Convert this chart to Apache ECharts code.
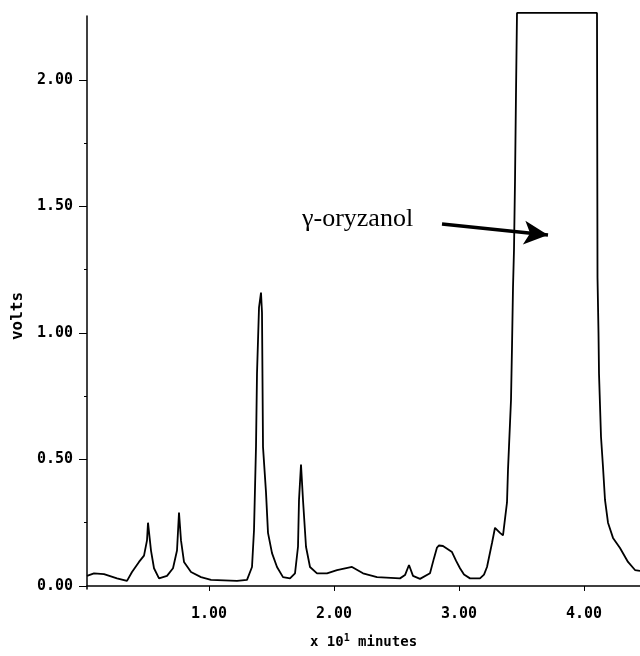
<!DOCTYPE html>
<html>
<head>
<meta charset="utf-8">
<script src="https://cdn.jsdelivr.net/npm/echarts@6/dist/echarts.min.js"></script>
<style>
  html, body { margin: 0; padding: 0; background: #fff; }
  #chart { width: 640px; height: 656px; }
</style>
</head>
<body>
<div id="chart"></div>
<script>
// retention time (x 10 minutes) and detector response (volts)
const times = [
  0.024, 0.08, 0.16, 0.264, 0.344, 0.384, 0.44, 0.48, 0.504, 0.512, 0.536, 0.56, 0.6,
  0.664, 0.712, 0.744, 0.76, 0.776, 0.8, 0.856, 0.936, 1.016, 1.224, 1.304, 1.344,
  1.36, 1.376, 1.384, 1.4, 1.416, 1.424, 1.432, 1.456, 1.472, 1.504, 1.544, 1.592,
  1.648, 1.688, 1.712, 1.72, 1.736, 1.752, 1.776, 1.808, 1.864, 1.944, 2.024, 2.144,
  2.232, 2.344, 2.528, 2.568, 2.6, 2.632, 2.688, 2.768, 2.8, 2.824, 2.84, 2.872,
  2.944, 2.976, 3.008, 3.04, 3.088, 3.168, 3.2, 3.224, 3.264, 3.288, 3.328, 3.352,
  3.384, 3.392, 3.416, 3.424, 3.432, 3.44, 3.448, 3.456, 3.464, 4.104, 4.108, 4.116,
  4.12, 4.136, 4.152, 4.168, 4.192, 4.232, 4.288, 4.352, 4.408, 4.448
]
const volts = [
  0.04, 0.05, 0.047, 0.03, 0.02, 0.055, 0.095, 0.12, 0.18, 0.25, 0.14, 0.07, 0.03,
  0.04, 0.07, 0.14, 0.29, 0.18, 0.095, 0.055, 0.035, 0.024, 0.02, 0.024, 0.075,
  0.22, 0.55, 0.84, 1.10, 1.16, 1.08, 0.55, 0.37, 0.21, 0.13, 0.075, 0.035,
  0.03, 0.05, 0.155, 0.34, 0.48, 0.34, 0.155, 0.075, 0.05, 0.05, 0.063, 0.075,
  0.05, 0.035, 0.03, 0.043, 0.083, 0.04, 0.028, 0.05, 0.11, 0.152, 0.16, 0.158,
  0.134, 0.1, 0.07, 0.045, 0.03, 0.03, 0.045, 0.075, 0.17, 0.23, 0.21, 0.20,
  0.33, 0.46, 0.735, 0.945, 1.18, 1.33, 1.6, 1.95, 2.265, 2.265, 1.22, 1.0,
  0.84, 0.59, 0.47, 0.34, 0.25, 0.19, 0.15, 0.095, 0.063, 0.06
]

const xTicks = [1, 2, 3, 4]
const yTicks = [0, 0.5, 1, 1.5, 2]
const yMinorTicks = [0.25, 0.75, 1.25, 1.75]

// arrow pointing at the big peak (data coords)
const arrowFrom = [2.864, 1.431]
const arrowTo = [3.712, 1.387]

const chart = echarts.init(document.getElementById('chart'))

const monoFont = 'DejaVu Sans Mono'

const option = {
  animation: false,
  backgroundColor: '#fff',
  grid: {
    left: 87,
    right: 0,
    top: 16,
    bottom: 67,
    containLabel: false,
    outerBoundsMode: 'none'
  },
  xAxis: {
    type: 'value',
    min: 0.024,
    max: 4.448,
    name: 'x 10{s|1} minutes',
    nameLocation: 'middle',
    nameGap: 44,
    nameTextStyle: {
      color: '#000',
      fontFamily: monoFont,
      fontWeight: 'bold',
      fontSize: 14,
      rich: {
        s: { fontFamily: monoFont, fontWeight: 'bold', fontSize: 10, color: '#000', padding: [0, 0, 8, 0] }
      }
    },
    axisLine: { show: true, lineStyle: { color: '#000', width: 1.5 } },
    axisTick: { show: true, length: 5, customValues: xTicks, lineStyle: { color: '#000', width: 1 } },
    axisLabel: {
      customValues: xTicks,
      margin: 18,
      color: '#000',
      fontFamily: monoFont,
      fontWeight: 'bold',
      fontSize: 15,
      formatter: v => v.toFixed(2)
    },
    splitLine: { show: false }
  },
  yAxis: [
    {
      type: 'value',
      min: -0.012,
      max: 2.253,
      axisLine: { show: true, lineStyle: { color: '#000', width: 1.5 } },
      axisTick: { show: true, length: 8, customValues: yTicks, lineStyle: { color: '#000', width: 1 } },
      axisLabel: {
        customValues: yTicks,
        margin: 14,
        color: '#000',
        fontFamily: monoFont,
        fontWeight: 'bold',
        fontSize: 15,
        formatter: v => v.toFixed(2)
      },
      splitLine: { show: false }
    },
    {
      // minor ticks only
      type: 'value',
      position: 'left',
      min: -0.012,
      max: 2.253,
      axisLine: { show: false },
      axisTick: { show: true, length: 3, customValues: yMinorTicks, lineStyle: { color: '#000', width: 1 } },
      axisLabel: { show: false, customValues: yMinorTicks },
      splitLine: { show: false }
    }
  ],
  graphic: [
    {
      type: 'text',
      x: 18,
      y: 316,
      rotation: Math.PI / 2,
      style: {
        text: 'volts',
        fill: '#000',
        font: 'bold 16px "DejaVu Sans Mono"',
        align: 'center',
        verticalAlign: 'middle'
      }
    },
    {
      type: 'text',
      x: 302,
      y: 219,
      style: {
        text: 'γ-oryzanol',
        fill: '#000',
        font: '26px "Liberation Serif"',
        align: 'left',
        verticalAlign: 'middle'
      }
    }
  ],
  series: [
    {
      type: 'line',
      data: times.map((t, i) => [t, volts[i]]),
      showSymbol: false,
      clip: false,
      lineStyle: { color: '#000', width: 1.8 },
      markLine: {
        silent: true,
        symbol: ['none', 'arrow'],
        symbolSize: [18, 24],
        label: { show: false },
        lineStyle: { color: '#000', width: 3.5, type: 'solid' },
        data: [[{ coord: arrowFrom }, { coord: arrowTo }]]
      }
    }
  ]
}

chart.setOption(option)
</script>
</body>
</html>
